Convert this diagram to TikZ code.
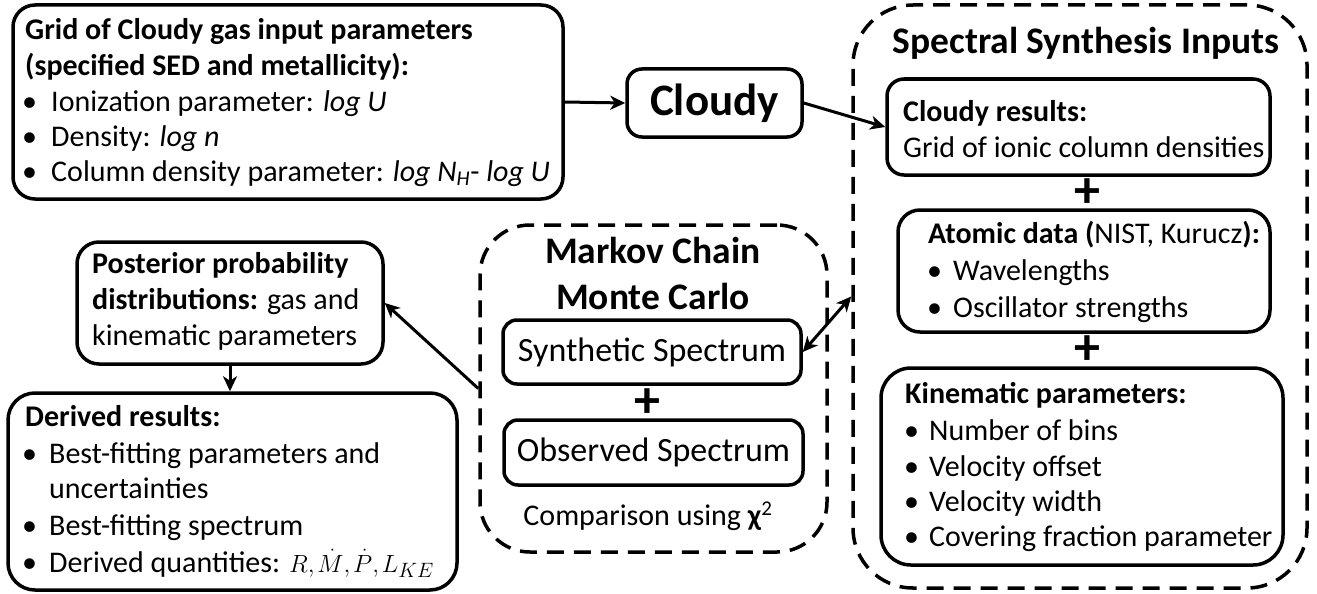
\documentclass[tikz,border=0pt]{standalone}
\usepackage{fontspec}
\setmainfont{Carlito}
\usetikzlibrary{arrows.meta}
\newcommand\fbody{\fontsize{30}{35}\selectfont}
\newcommand\ftitle{\fontsize{37.5}{43}\selectfont\bfseries}
\newcommand\bitem[5]{\node[txt] (#1b) at (#2,#4) {•}; \node[txt] (#1) at (#3,#4) {#5};}
\tikzset{
  box/.style={draw, line width=3.5pt, rounded corners=#1, inner sep=0pt},
  box/.default=20pt,
  dbox/.style={draw, line width=3.5pt, dash pattern=on 17pt off 10pt, rounded corners=#1, inner sep=0pt},
  txt/.style={anchor=base west, inner sep=0pt, font=\fbody},
  ttl/.style={anchor=base, inner sep=0pt, font=\ftitle},
  plussign/.style={inner sep=0pt, font=\fontsize{52}{52}\selectfont\bfseries},
  tip/.tip={Stealth[length=15pt,width=14pt,inset=4.5pt]},
  arr/.style={line width=3pt, -tip},
  darr/.style={line width=3pt, tip-tip},
}
\begin{document}
\begin{tikzpicture}[x=1pt,y=-1pt]
\useasboundingbox (0,0) rectangle (1317,594);
% boxes
\node[box=22pt, minimum width=550pt, minimum height=194pt] (grid) at (288,102) {};
\node[box=15pt, minimum width=175pt, minimum height=68pt, font=\fontsize{45}{50}\selectfont\bfseries] (cloudy) at (714.5,103) {Cloudy};
\node[dbox=60pt, minimum width=454pt, minimum height=583pt] (ssi) at (1080,296.5) {};
\node[box=17pt, minimum width=383pt, minimum height=96pt] (cres) at (1078.5,127) {};
\node[box=22pt, minimum width=372pt, minimum height=122pt] (atom) at (1084,271) {};
\node[box=30pt, minimum width=402pt, minimum height=197pt] (kin) at (1082,466.5) {};
\node[dbox=50pt, minimum width=347pt, minimum height=327pt] (mcmc) at (653.5,388.5) {};
\node[box=14pt, minimum width=298pt, minimum height=64pt, font=\fontsize{34}{40}\selectfont] (synth) at (652,352) {Synthetic Spectrum};
\node[box=14pt, minimum width=299pt, minimum height=65pt, font=\fontsize{34}{40}\selectfont] (obs) at (653.5,452.5) {Observed Spectrum};
\node[box=22pt, minimum width=306pt, minimum height=122pt] (post) at (230,303) {};
\node[box=27pt, minimum width=449pt, minimum height=197pt] (der) at (232.5,491.5) {};
% plus signs
\node[plussign] (plus1) at (1087,193) {+};
\node[plussign] (plus2) at (1087,350) {+};
\node[plussign] (plus3) at (647,403) {+};
% grid text
\node[txt] (g1) at (25,40) {\textbf{Grid of Cloudy gas input parameters}};
\node[txt] (g2) at (25,75) {\textbf{(specified SED and metallicity):}};
\bitem{g3}{22}{51}{111}{Ionization parameter: \textit{log U}}
\bitem{g4}{22}{51}{146}{Density: \textit{log n}}
\bitem{g5}{22}{51}{181}{Column density parameter: \textit{log N\textsubscript{H}}- \textit{log U}}
% spectral synthesis inputs
\node[ttl] (ssit) at (1086,54) {Spectral Synthesis Inputs};
\node[txt] (c1) at (903,121) {\textbf{Cloudy results:}};
\node[txt] (c2) at (903,157) {Grid of ionic column densities};
\node[txt] (a1) at (928,243) {\textbf{Atomic data (}NIST, Kurucz\textbf{):}};
\bitem{a2}{927}{953}{280}{Wavelengths}
\bitem{a3}{927}{953}{317}{Oscillator strengths}
\node[txt] (k1) at (905,403) {\textbf{Kinematic parameters:}};
\bitem{k2}{904}{929}{440}{Number of bins}
\bitem{k3}{904}{929}{476}{Velocity offset}
\bitem{k4}{904}{929}{511}{Velocity width}
\bitem{k5}{904}{929}{546}{Covering fraction parameter}
% mcmc
\node[ttl] (mc1) at (653,263) {Markov Chain};
\node[ttl] (mc2) at (653,309) {Monte Carlo};
\node[txt, anchor=base] (cmp) at (648,525) {Comparison using \textbf{χ}\textsuperscript{2}};
% posterior
\node[txt] (p1) at (92,273) {\textbf{Posterior probability}};
\node[txt] (p2) at (92,309) {\textbf{distributions:} gas and};
\node[txt] (p3) at (92,345) {kinematic parameters};
% derived
\node[txt] (d1) at (25,426) {\textbf{Derived results:}};
\bitem{d2}{22}{49}{463}{Best-fitting parameters and}
\node[txt] (d3) at (49,498) {uncertainties};
\bitem{d4}{22}{49}{535}{Best-fitting spectrum}
\bitem{d5}{22}{49}{572}{Derived quantities: $R{,}\mkern2mu\dot{M}{,}\mkern2mu\dot{P}{,}\mkern2mu L_{KE}$}
% connectors
\draw[arr] (grid.east) -- (cloudy.west);
\draw[arr] (cloudy.east) -- (cres.west);
\draw[darr] (synth.east) -- (ssi.west);
\draw[arr] (mcmc.west) -- (post.east);
\draw[arr] (post.south) -- (post.south |- der.north);
\end{tikzpicture}
\end{document}
